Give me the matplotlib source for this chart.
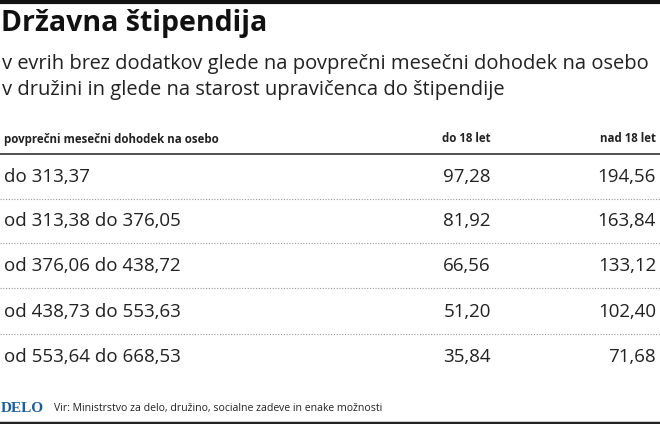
import matplotlib
matplotlib.use("Agg")
import matplotlib.pyplot as plt
from matplotlib.lines import Line2D

title = "Državna štipendija"
subtitle = ["v evrih brez dodatkov glede na povprečni mesečni dohodek na osebo",
            "v družini in glede na starost upravičenca do štipendije"]
headers = ["povprečni mesečni dohodek na osebo", "do 18 let", "nad 18 let"]
ranges = ["do 313,37", "od 313,38 do 376,05", "od 376,06 do 438,72",
          "od 438,73 do 553,63", "od 553,64 do 668,53"]
under18 = ["97,28", "81,92", "66,56", "51,20", "35,84"]
over18 = ["194,56", "163,84", "133,12", "102,40", "71,68"]
source = "Vir: Ministrstvo za delo, družino, socialne zadeve in enake možnosti"

W, H = 660, 424
fig = plt.figure(figsize=(W / 100, H / 100), dpi=100)

def tx(x, y, s, **kw):
    fig.text(x / W, 1 - y / H, s, **kw)

def hline(y, x0=0, x1=W, **kw):
    fig.add_artist(Line2D([x0 / W, x1 / W], [1 - y / H, 1 - y / H], **kw))

hline(1.5, lw=3, color="#111111")
tx(1, 24, title, fontsize=20.5, fontweight="bold", family="Open Sans", va="center", color="#111111")
tx(2, 64, subtitle[0], fontsize=14.5, family="Open Sans", va="center", color="#222222")
tx(2, 90, subtitle[1], fontsize=14.5, family="Open Sans", va="center", color="#222222")

tx(4, 139, headers[0], fontsize=8.3, fontweight="bold", family="Open Sans",
   va="center", color="#222222")
tx(491, 139, headers[1], fontsize=8.3, fontweight="bold", family="Open Sans",
   va="center", ha="right", color="#222222")
tx(656, 139, headers[2], fontsize=8.3, fontweight="bold", family="Open Sans",
   va="center", ha="right", color="#222222")
hline(153.5, lw=1.2, color="#333333")

row_y = [177, 221, 266, 312, 357]
for i, (r, a, b) in enumerate(zip(ranges, under18, over18)):
    y = row_y[i]
    tx(4, y, r, fontsize=13.5, family="Open Sans", va="center", color="#222222")
    tx(491, y, a, fontsize=13.5, family="Open Sans", va="center", ha="right", color="#222222")
    tx(656, y, b, fontsize=13.5, family="Open Sans", va="center", ha="right", color="#222222")
    if i < len(ranges) - 1:
        hline(y + 22, lw=0.8, color="#999999", linestyle=(0, (1, 1.5)))

tx(1, 408, "DELO", fontsize=11, fontweight="bold", family="Liberation Serif",
   va="center", color="#1f5f99")
tx(54, 408, source, fontsize=7.6, family="Open Sans", va="center", color="#222222")
hline(422.5, lw=2.5, color="#222222")

fig.savefig("out.png", dpi=100)
